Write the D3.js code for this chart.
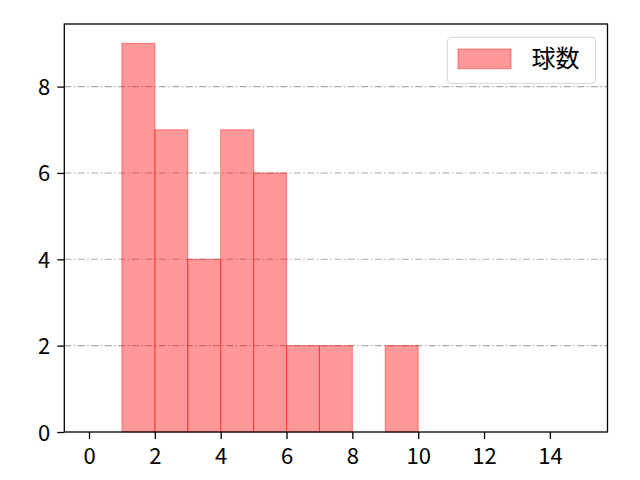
<!DOCTYPE html>
<html>
<head>
<meta charset="utf-8">
<title>球数</title>
<script src="https://d3js.org/d3.v7.min.js"></script>
<style>
  body { margin: 0; background: #fff; }
  .axis path, .axis line { stroke: #000; }
  .axis text { font-family: "Noto Sans CJK JP", "Noto Sans", sans-serif; font-size: 22px; fill: #000; }
</style>
</head>
<body>
<script>
// histogram bins (width 1) and counts
var binStarts = [0, 1, 2, 3, 4, 5, 6, 7, 8, 9, 10, 11, 12, 13, 14];
var counts    = [0, 9, 7, 4, 7, 6, 2, 2, 0, 2, 0, 0, 0, 0, 0];
var binWidth = 1;
var xTicks = [0, 2, 4, 6, 8, 10, 12, 14];
var yTicks = [0, 2, 4, 6, 8];
var seriesName = "球数";

var width = 640, height = 480;
var padding = {left: 64.3, right: 32.5, top: 24, bottom: 48};

var svg = d3.select("body").append("svg")
  .attr("width", width)
  .attr("height", height)
  .style("background", "#fff");

var xMin = 0, xMax = 15;
var xMargin = (xMax - xMin) * 0.05;
var xScale = d3.scaleLinear()
  .domain([xMin - xMargin, xMax + xMargin])
  .range([padding.left, width - padding.right]);

var yMax = d3.max(counts) * 1.05;
var yScale = d3.scaleLinear()
  .domain([0, yMax])
  .range([height - padding.bottom, padding.top]);

// grid (horizontal, dash-dot)
svg.append("g")
  .selectAll("line")
  .data(yTicks.filter(function(d){ return d > 0; }))
  .enter().append("line")
  .attr("x1", padding.left)
  .attr("x2", width - padding.right)
  .attr("y1", function(d){ return yScale(d); })
  .attr("y2", function(d){ return yScale(d); })
  .attr("stroke", "#aaaaaa")
  .attr("stroke-width", 1.1)
  .attr("stroke-dasharray", "7,2.5,1.5,2.5");

// bars
svg.append("g")
  .selectAll("rect")
  .data(counts)
  .enter().append("rect")
  .attr("x", function(d, i){ return xScale(binStarts[i]); })
  .attr("y", function(d){ return yScale(d); })
  .attr("width", function(d, i){ return xScale(binStarts[i] + binWidth) - xScale(binStarts[i]); })
  .attr("height", function(d){ return yScale(0) - yScale(d); })
  .attr("fill", "rgba(255,0,0,0.4)")
  .attr("stroke", "rgba(255,0,0,0.4)")
  .attr("stroke-width", 1.1);

// axes
var xAxis = svg.append("g")
  .attr("class", "axis")
  .attr("transform", "translate(0," + (height - padding.bottom) + ")")
  .call(d3.axisBottom(xScale).tickValues(xTicks).tickSize(7).tickSizeOuter(0));
xAxis.select(".domain").remove();
xAxis.selectAll("line").attr("stroke-width", 1.3);
xAxis.selectAll("text").attr("y", 31.5).attr("dy", null);

var yAxis = svg.append("g")
  .attr("class", "axis")
  .attr("transform", "translate(" + padding.left + ",0)")
  .call(d3.axisLeft(yScale).tickValues(yTicks).tickSize(7).tickSizeOuter(0));
yAxis.select(".domain").remove();
yAxis.selectAll("line").attr("stroke-width", 1.3);
yAxis.selectAll("text").attr("x", -14).attr("dy", "8");

// frame
svg.append("rect")
  .attr("x", padding.left)
  .attr("y", padding.top)
  .attr("width", width - padding.left - padding.right)
  .attr("height", height - padding.top - padding.bottom)
  .attr("fill", "none")
  .attr("stroke", "#000")
  .attr("stroke-width", 1.3);

// legend
var legend = svg.append("g");
legend.append("rect")
  .attr("x", 447.3).attr("y", 37.3)
  .attr("width", 148.4).attr("height", 46)
  .attr("rx", 4)
  .attr("fill", "rgba(255,255,255,0.8)")
  .attr("stroke", "#d5d5d5")
  .attr("stroke-width", 1);
legend.append("rect")
  .attr("x", 458).attr("y", 49)
  .attr("width", 53).attr("height", 19.7)
  .attr("fill", "rgba(255,0,0,0.4)")
  .attr("stroke", "rgba(255,0,0,0.4)")
  .attr("stroke-width", 1.1);
legend.append("text")
  .attr("x", 531.5).attr("y", 67)
  .attr("font-family", "'Noto Sans CJK JP', sans-serif")
  .attr("font-size", 24)
  .attr("fill", "#000")
  .text(seriesName);
</script>
</body>
</html>
